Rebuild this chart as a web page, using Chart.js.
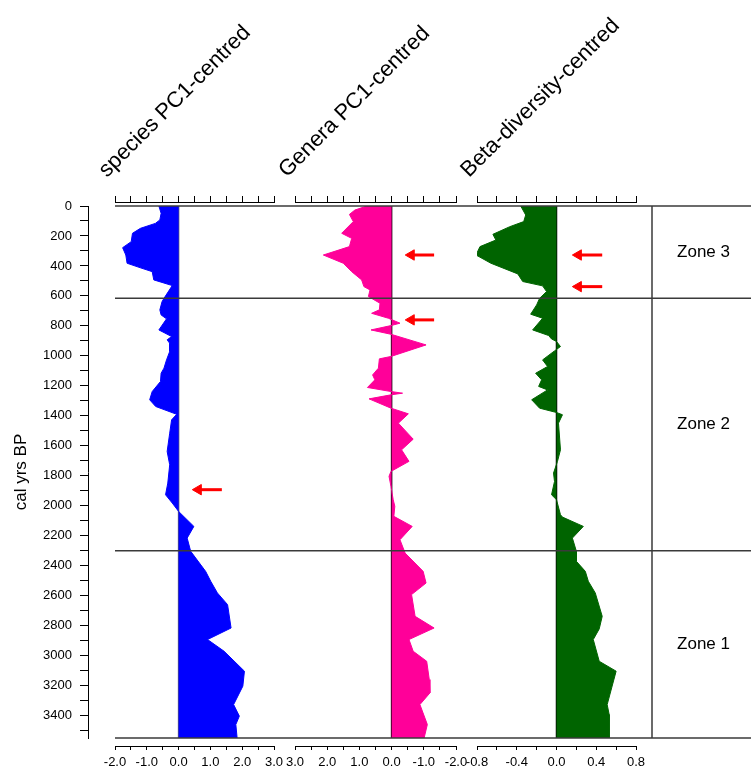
<!DOCTYPE html>
<html><head><meta charset="utf-8">
<script src="https://cdn.jsdelivr.net/npm/chart.js@4/dist/chart.umd.min.js"></script>
<style>html,body{margin:0;padding:0;background:#fff;}canvas{display:block;}</style>
</head><body>
<canvas id="c" width="751" height="772"></canvas>
<script>
// ---------------- data ----------------
const panelTitles = ['species PC1-centred', 'Genera PC1-centred', 'Beta-diversity-centred'];

const speciesAges = [0, 49, 93, 116, 149, 182, 238, 278, 327, 382, 416, 438, 493, 531, 616, 638, 693, 727, 753, 827, 871, 893, 916, 971, 1027, 1082, 1116, 1171, 1238, 1293, 1338, 1390, 1427, 1516, 1638, 1727, 1849, 1927, 1982, 2038, 2138, 2216, 2304, 2438, 2504, 2582, 2660, 2816, 2893, 2971, 3104, 3204, 3327, 3404, 3460, 3550];
const speciesValues = [-0.62, -0.55, -0.59, -0.73, -1.2, -1.45, -1.49, -1.76, -1.66, -1.62, -1.15, -0.83, -0.78, -0.2, -0.46, -0.52, -0.59, -0.55, -0.38, -0.62, -0.22, -0.36, -0.28, -0.28, -0.38, -0.46, -0.55, -0.57, -0.83, -0.91, -0.72, -0.06, -0.22, -0.28, -0.36, -0.28, -0.34, -0.41, -0.2, 0.0, 0.48, 0.27, 0.38, 0.85, 1.01, 1.22, 1.54, 1.65, 0.91, 1.43, 2.07, 2.02, 1.73, 1.91, 1.8, 1.84];

const generaAges = [0, 27, 56, 104, 182, 216, 271, 327, 382, 438, 493, 538, 560, 604, 649, 693, 716, 749, 782, 798, 827, 856, 927, 1004, 1020, 1082, 1127, 1160, 1211, 1238, 1249, 1260, 1287, 1349, 1387, 1449, 1556, 1627, 1704, 1771, 1804, 1871, 1960, 2004, 2071, 2138, 2227, 2316, 2438, 2516, 2593, 2738, 2816, 2893, 2971, 3038, 3160, 3249, 3327, 3460, 3550];
const generaValues = [0.77, 1.14, 1.31, 1.19, 1.55, 1.24, 1.31, 2.12, 1.5, 1.24, 0.93, 0.86, 0.67, 0.72, 0.36, 0.38, 0.62, 0.1, -0.26, 0.02, 0.64, 0.02, -1.07, 0.02, 0.38, 0.41, 0.59, 0.52, 0.75, 0.02, -0.34, 0.02, 0.7, 0.02, -0.52, -0.21, -0.67, -0.31, -0.54, 0.02, 0.08, 0.02, -0.05, -0.1, -0.07, -0.64, -0.26, -0.42, -0.98, -1.07, -0.62, -0.73, -1.32, -0.54, -0.67, -1.09, -1.17, -1.19, -0.88, -1.11, -1.01];

const betaAges = [0, 60, 104, 138, 189, 227, 271, 327, 382, 453, 504, 533, 571, 616, 660, 722, 749, 827, 864, 887, 904, 938, 967, 1027, 1071, 1116, 1160, 1204, 1227, 1293, 1349, 1378, 1393, 1449, 1627, 1704, 1782, 1838, 1927, 1960, 2060, 2076, 2138, 2216, 2304, 2371, 2438, 2504, 2582, 2738, 2822, 2893, 3038, 3104, 3327, 3393, 3550];
const betaValues = [-0.36, -0.31, -0.33, -0.47, -0.64, -0.61, -0.77, -0.81, -0.66, -0.39, -0.34, -0.14, -0.10, -0.17, -0.2, -0.26, -0.14, -0.24, -0.08, -0.05, 0.0, 0.04, -0.02, -0.14, -0.09, -0.21, -0.15, -0.18, -0.09, -0.25, -0.17, 0.0, 0.06, 0.02, 0.04, 0.01, -0.03, -0.02, -0.05, 0.0, 0.04, 0.06, 0.27, 0.16, 0.2, 0.2, 0.29, 0.32, 0.39, 0.46, 0.43, 0.37, 0.43, 0.6, 0.51, 0.53, 0.53];

const zoneBounds = [0, 615, 2300, 3550];
const zoneLabels = ['Zone 3', 'Zone 2', 'Zone 1'];

const arrowPanel = [1, 2, 2, 3, 3];
const arrowAge = [1893, 327, 760, 327, 538];
const arrowTail = [1.36, -1.32, -1.32, 0.46, 0.46];
const arrowHead = [0.62, -0.61, -0.61, 0.22, 0.22];

const ageTickLabels = [0, 200, 400, 600, 800, 1000, 1200, 1400, 1600, 1800, 2000, 2200, 2400, 2600, 2800, 3000, 3200, 3400];
const speciesTickLabels = [-2, -1, 0, 1, 2, 3];
const generaTickLabels = [3, 2, 1, 0, -1, -2];
const betaTickLabels = [-0.8, -0.4, 0, 0.4, 0.8];

// ---------------- chart ----------------
const FONT = "'Liberation Sans', Arial, sans-serif";
Chart.defaults.font.family = FONT;
Chart.defaults.color = '#000';

function labelFor(list, v) {
  for (const t of list) if (Math.abs(t - v) < 1e-6) return t.toFixed(1);
  return '';
}
function zeroPad(s) { s.paddingLeft = 0; s.paddingRight = 0; s.paddingTop = 0; s.paddingBottom = 0; }

const cols = [
  {key: 'g0', w: 27},
  {key: '1', w: 159, min: -2, max: 3, step: 0.5, reverse: false, labels: speciesTickLabels},
  {key: 'g1', w: 21},
  {key: '2', w: 161, min: -2, max: 3, step: 0.5, reverse: true, labels: generaTickLabels},
  {key: 'g2', w: 21},
  {key: '3', w: 159, min: -0.8, max: 0.8, step: 0.2, reverse: false, labels: betaTickLabels},
  {key: 'g3', w: 16},
  {key: 'zc', w: 99}
];

const scales = {
  y: {
    type: 'linear', position: 'left', reverse: true,
    min: zoneBounds[0], max: zoneBounds[zoneBounds.length - 1],
    ticks: {stepSize: 100, includeBounds: false, autoSkip: false, padding: 8, font: {size: 13}, color: '#000',
      callback: v => ageTickLabels.includes(v) ? String(v) : ''},
    grid: {drawOnChartArea: false, color: '#000', tickLength: 8},
    border: {color: '#000', width: 1},
    title: {display: true, text: 'cal yrs BP', color: '#000', font: {size: 17}, padding: {top: 11, bottom: 0}},
    afterFit(s) { s.width = 88; s.paddingTop = 0; s.paddingBottom = 0; }
  },
  tsp: {type: 'linear', axis: 'x', position: 'top', weight: 0, min: 0, max: 1,
    ticks: {display: false}, grid: {drawOnChartArea: false, color: 'rgba(0,0,0,0)', tickLength: 4},
    border: {display: false}, afterFit: zeroPad},
  bsp: {type: 'linear', axis: 'x', position: 'bottom', weight: 0, min: 0, max: 1,
    ticks: {display: false}, grid: {drawOnChartArea: false, color: 'rgba(0,0,0,0)', tickLength: 8},
    border: {display: false}, afterFit: zeroPad}
};

cols.forEach((c, i) => {
  const isPanel = c.min !== undefined;
  const b = {type: 'linear', axis: 'x', position: 'bottom', stack: 'bot', stackWeight: c.w, weight: 1 + i * 0.01, afterFit: zeroPad};
  const t = {type: 'linear', axis: 'x', position: 'top', stack: 'top', stackWeight: c.w, weight: 2 - i * 0.01, afterFit: zeroPad};
  if (isPanel) {
    Object.assign(b, {min: c.min, max: c.max, reverse: c.reverse,
      ticks: {stepSize: c.step, includeBounds: false, autoSkip: false, maxRotation: 0, minRotation: 0, padding: 5,
        font: {size: 13}, color: '#000', callback: v => labelFor(c.labels, v)},
      grid: {drawOnChartArea: false, color: '#000', tickLength: 4}, border: {color: '#000', width: 1}});
    Object.assign(t, {min: c.min, max: c.max, reverse: c.reverse,
      ticks: {stepSize: c.step, includeBounds: false, display: false},
      grid: {drawOnChartArea: false, color: '#000', tickLength: 6}, border: {color: '#000', width: 1}});
  } else {
    Object.assign(b, {min: 0, max: 1,
      ticks: {padding: 5, font: {size: 13}, autoSkip: false, maxRotation: 0, minRotation: 0, callback: () => ''},
      grid: {drawOnChartArea: false, color: 'rgba(0,0,0,0)', tickLength: 4}, border: {display: false}});
    Object.assign(t, {min: 0, max: 1, ticks: {display: false},
      grid: {drawOnChartArea: false, color: 'rgba(0,0,0,0)', tickLength: 6}, border: {display: false}});
  }
  scales['xb' + c.key] = b;
  scales['xt' + c.key] = t;
});

const panels = [
  {ages: speciesAges, values: speciesValues, color: '#0000ff', axis: 'xb1', zero: '#5a5a78'},
  {ages: generaAges, values: generaValues, color: '#ff0099', axis: 'xb2', zero: '#000000'},
  {ages: betaAges, values: betaValues, color: '#006400', axis: 'xb3', zero: '#000000'}
];

const datasets = [];
panels.forEach(p => {
  datasets.push({
    data: p.ages.map((a, i) => ({x: p.values[i], y: a})),
    xAxisID: p.axis, yAxisID: 'y', fill: 'origin',
    backgroundColor: p.color, borderColor: p.color, borderWidth: 1,
    pointRadius: 0, tension: 0, order: 2
  });
  datasets.push({
    data: [{x: 0, y: zoneBounds[0]}, {x: 0, y: zoneBounds[zoneBounds.length - 1]}],
    xAxisID: p.axis, yAxisID: 'y', fill: false,
    borderColor: p.zero, borderWidth: 1.5, pointRadius: 0, order: 3
  });
});
arrowAge.forEach((a, i) => {
  datasets.push({
    data: [{x: arrowTail[i], y: a}, {x: arrowHead[i], y: a}],
    xAxisID: 'xb' + arrowPanel[i], yAxisID: 'y', fill: false,
    borderColor: '#ff0000', borderWidth: 3,
    pointRadius: [0, 6], pointStyle: 'triangle', pointRotation: -90,
    pointBackgroundColor: '#ff0000', pointBorderColor: '#ff0000', pointBorderWidth: 1,
    order: 0
  });
});

const deco = {
  id: 'deco',
  afterDatasetsDraw(chart) {
    const {ctx, chartArea, scales: s} = chart;
    const y = s.y;
    const left = s.xb1.left, right = chartArea.right;
    ctx.save();
    ctx.strokeStyle = '#3a3a3a';
    ctx.lineWidth = 1.5;
    zoneBounds.forEach(b => {
      const py = y.getPixelForValue(b);
      ctx.beginPath(); ctx.moveTo(left, py); ctx.lineTo(right, py); ctx.stroke();
    });
    const zx = s.xbzc.left;
    ctx.beginPath();
    ctx.moveTo(zx, y.getPixelForValue(zoneBounds[0]));
    ctx.lineTo(zx, y.getPixelForValue(zoneBounds[zoneBounds.length - 1]));
    ctx.stroke();
    ctx.fillStyle = '#000';
    ctx.font = '17px ' + FONT;
    ctx.textAlign = 'center';
    ctx.textBaseline = 'middle';
    const cx = (s.xbzc.left + s.xbzc.right) / 2 + 2;
    zoneLabels.forEach((t, i) => {
      ctx.fillText(t, cx, y.getPixelForValue((zoneBounds[i] + zoneBounds[i + 1]) / 2));
    });
    ['xt1', 'xt2', 'xt3'].forEach((id, i) => {
      const sc = s[id];
      ctx.save();
      ctx.translate(sc.left - 8, sc.top - 18);
      ctx.rotate(-Math.PI / 4);
      ctx.textAlign = 'left';
      ctx.textBaseline = 'alphabetic';
      ctx.font = '22px ' + FONT;
      ctx.fillText(panelTitles[i], 0, 0);
      ctx.restore();
    });
    ctx.restore();
  }
};

new Chart(document.getElementById('c'), {
  type: 'line',
  data: {datasets},
  options: {
    indexAxis: 'y',
    responsive: false,
    animation: false,
    devicePixelRatio: 1,
    events: [],
    layout: {autoPadding: false, padding: {top: 196, bottom: -3.6, left: 0, right: 0}},
    plugins: {legend: {display: false}, tooltip: {enabled: false}, title: {display: false}},
    scales
  },
  plugins: [deco]
});
</script>
</body></html>
